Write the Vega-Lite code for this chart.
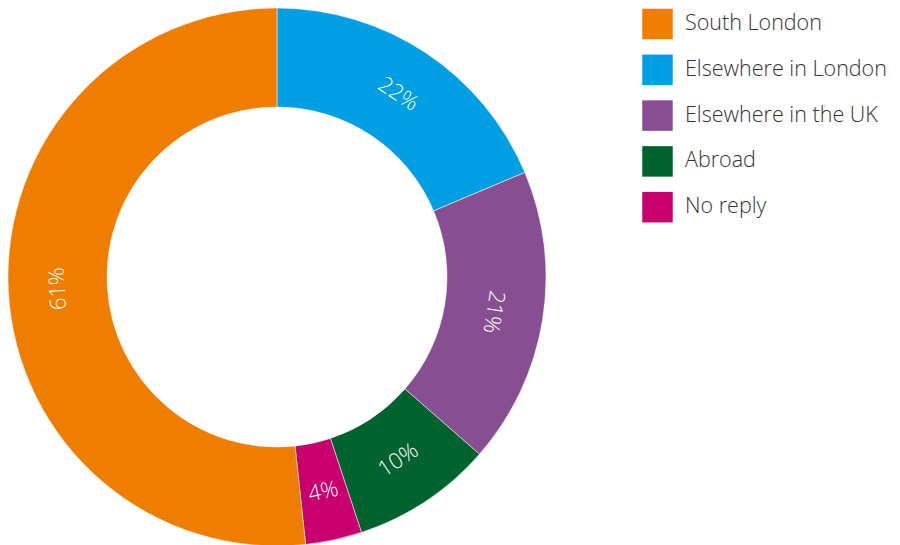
{
  "$schema": "https://vega.github.io/schema/vega-lite/v6.json",
  "width": 554,
  "height": 554,
  "padding": 0,
  "background": "white",
  "view": {"stroke": null},
  "data": {
    "values": [
      {"cat": "Elsewhere in London", "value": 22, "order": 1, "label": "22%"},
      {"cat": "Elsewhere in the UK", "value": 21, "order": 2, "label": "21%"},
      {"cat": "Abroad", "value": 10, "order": 3, "label": "10%"},
      {"cat": "No reply", "value": 4, "order": 4, "label": "4%"},
      {"cat": "South London", "value": 61, "order": 5, "label": "61%"}
    ]
  },
  "transform": [
    {"joinaggregate": [{"op": "sum", "field": "value", "as": "total"}]},
    {"window": [{"op": "sum", "field": "value", "as": "cum"}], "sort": [{"field": "order", "order": "ascending"}], "frame": [null, 0]},
    {"calculate": "(datum.cum - datum.value / 2) / datum.total * 360", "as": "mid"},
    {"calculate": "datum.mid > 120 && datum.mid < 240 ? datum.mid - 180 : datum.mid", "as": "labelAngle"}
  ],
  "encoding": {
    "theta": {"field": "value", "type": "quantitative", "stack": true},
    "order": {"field": "order", "type": "quantitative"}
  },
  "layer": [
    {
      "mark": {"type": "arc", "outerRadius": 269, "innerRadius": 170, "stroke": "white", "strokeWidth": 0.5},
      "encoding": {
        "color": {
          "field": "cat",
          "type": "nominal",
          "scale": {
            "domain": ["South London", "Elsewhere in London", "Elsewhere in the UK", "Abroad", "No reply"],
            "range": ["#EF7D00", "#009FE3", "#874F92", "#00632E", "#C7006E"]
          },
          "legend": {
            "title": null,
            "orient": "none",
            "legendX": 642,
            "legendY": 8.5,
            "padding": 0,
            "symbolType": "square",
            "symbolSize": 930,
            "symbolStrokeWidth": 0,
            "symbolOpacity": 1,
            "labelFontSize": 21.5,
            "labelFont": "Open Sans",
            "labelFontWeight": 300,
            "labelColor": "#333333",
            "labelOffset": 12,
            "labelBaseline": "middle",
            "rowPadding": 14.8,
            "labelLimit": 300
          }
        }
      }
    },
    {
      "mark": {"type": "text", "radius": 219.5, "fontSize": 22, "font": "Open Sans", "fontWeight": 300, "align": "center", "baseline": "middle"},
      "encoding": {
        "text": {"field": "label", "type": "nominal"},
        "color": {"value": "white"},
        "angle": {"field": "labelAngle", "type": "quantitative", "scale": null}
      }
    }
  ]
}
